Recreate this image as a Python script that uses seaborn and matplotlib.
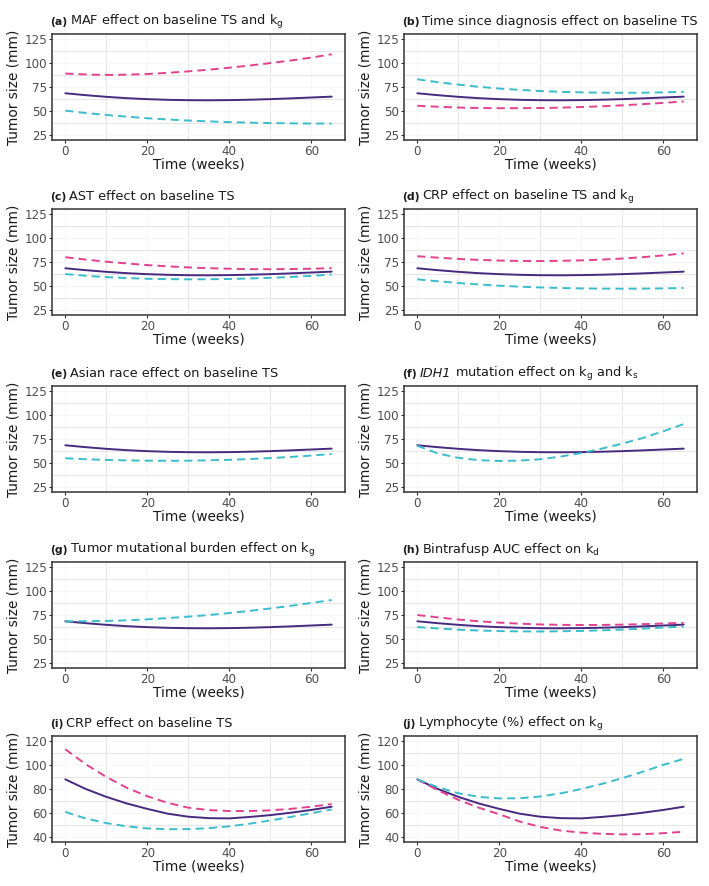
import numpy as np
import pandas as pd
import matplotlib
matplotlib.use("Agg")
import matplotlib.pyplot as plt
import seaborn as sns

sns.set_theme(style="white")
plt.rcParams["font.family"] = ["DejaVu Sans"]
plt.rcParams["mathtext.fontset"] = "dejavusans"

weeks = [0, 5, 10, 15, 20, 25, 30, 35, 40, 45, 50, 55, 60, 65]

typical_ab = [68.5, 66.5, 64.8, 63.4, 62.4, 61.7, 61.3, 61.2, 61.4, 61.8, 62.4, 63.2, 64.1, 65.0]
typical_ij = [88.0, 80.0, 73.5, 68.0, 63.5, 59.5, 57.0, 55.8, 55.6, 56.8, 58.3, 60.3, 62.6, 65.3]

a_high = [89.0, 88.0, 87.5, 87.8, 88.5, 89.7, 91.2, 93.0, 95.0, 97.3, 99.8, 102.5, 105.5, 109.0]
a_low = [50.5, 48.0, 46.0, 44.2, 42.6, 41.3, 40.2, 39.3, 38.6, 38.0, 37.6, 37.3, 37.1, 37.0]
b_low = [83.0, 80.0, 77.5, 75.2, 73.4, 72.0, 70.8, 70.0, 69.4, 69.1, 69.0, 69.1, 69.4, 70.0]
b_high = [55.5, 54.5, 53.7, 53.2, 53.0, 53.0, 53.2, 53.6, 54.2, 55.0, 56.0, 57.2, 58.5, 60.0]
c_high = [80.0, 77.5, 75.3, 73.5, 71.8, 70.5, 69.4, 68.6, 68.0, 67.6, 67.5, 67.7, 68.0, 68.6]
c_low = [62.5, 60.7, 59.3, 58.3, 57.6, 57.2, 57.0, 57.1, 57.4, 57.9, 58.6, 59.5, 60.6, 62.0]
d_high = [81.0, 79.5, 78.2, 77.2, 76.5, 76.1, 76.0, 76.2, 76.7, 77.5, 78.6, 80.0, 81.8, 84.0]
d_low = [57.0, 55.0, 53.2, 51.7, 50.4, 49.4, 48.6, 48.0, 47.6, 47.4, 47.3, 47.4, 47.6, 48.0]
e_low = [55.0, 54.0, 53.3, 52.8, 52.5, 52.4, 52.5, 52.9, 53.4, 54.2, 55.2, 56.4, 57.8, 59.5]
f_low = [68.0, 60.0, 55.5, 53.0, 52.2, 52.6, 54.0, 56.8, 60.5, 65.0, 70.2, 76.0, 83.0, 90.5]
g_low = [68.5, 68.5, 68.8, 69.5, 70.5, 71.8, 73.3, 75.0, 77.0, 79.3, 81.8, 84.5, 87.5, 90.5]
h_high = [75.0, 72.5, 70.3, 68.5, 67.1, 66.0, 65.2, 64.8, 64.6, 64.7, 65.0, 65.5, 66.2, 66.8]
h_low = [62.5, 61.0, 59.8, 58.9, 58.3, 58.0, 57.9, 58.1, 58.5, 59.1, 59.9, 60.9, 62.0, 63.0]
i_high = [113.0, 100.5, 90.0, 81.0, 74.0, 68.5, 64.5, 62.5, 61.7, 61.7, 62.3, 63.5, 65.3, 67.5]
i_low = [61.0, 55.5, 51.7, 49.0, 47.3, 46.6, 46.7, 47.5, 49.0, 51.2, 53.9, 56.8, 59.9, 63.0]
j_low = [88.0, 81.5, 76.5, 73.5, 72.2, 72.3, 73.8, 76.4, 80.0, 84.2, 89.0, 94.3, 100.0, 105.0]
j_high = [88.0, 79.0, 71.0, 64.5, 59.0, 53.0, 48.5, 45.5, 43.8, 42.8, 42.3, 42.5, 43.3, 44.5]

x_ticks = [0, 20, 40, 60]
y_ticks_std = [25, 50, 75, 100, 125]
y_ticks_ij = [40, 60, 80, 100, 120]

panels = [
    ("(a)", [("MAF effect on baseline TS and k$_\\mathregular{g}$", "normal")], typical_ab, a_high, a_low, y_ticks_std),
    ("(b)", [("Time since diagnosis effect on baseline TS", "normal")], typical_ab, b_high, b_low, y_ticks_std),
    ("(c)", [("AST effect on baseline TS", "normal")], typical_ab, c_high, c_low, y_ticks_std),
    ("(d)", [("CRP effect on baseline TS and k$_\\mathregular{g}$", "normal")], typical_ab, d_high, d_low, y_ticks_std),
    ("(e)", [("Asian race effect on baseline TS", "normal")], typical_ab, None, e_low, y_ticks_std),
    ("(f)", [("IDH1", "italic"), (" mutation effect on k$_\\mathregular{g}$ and k$_\\mathregular{s}$", "normal")], typical_ab, None, f_low, y_ticks_std),
    ("(g)", [("Tumor mutational burden effect on k$_\\mathregular{g}$", "normal")], typical_ab, None, g_low, y_ticks_std),
    ("(h)", [("Bintrafusp AUC effect on k$_\\mathregular{d}$", "normal")], typical_ab, h_high, h_low, y_ticks_std),
    ("(i)", [("CRP effect on baseline TS", "normal")], typical_ij, i_high, i_low, y_ticks_ij),
    ("(j)", [("Lymphocyte (%) effect on k$_\\mathregular{g}$", "normal")], typical_ij, j_high, j_low, y_ticks_ij),
]

W, H = 709, 886
fig = plt.figure(figsize=(W / 100, H / 100), dpi=100)

SOLID = "#47297F"
PINK = "#E2418F"
CYAN = "#3BBCCB"
DASH = (0, (4.2, 2.6))

col_left = [52, 404]
ax_w = 293
row_top = [34, 209, 386, 562, 736]
ax_h = 106

renderer = fig.canvas.get_renderer()

for k, (tag, pieces, typ, high, low, yt) in enumerate(panels):
    r, c = divmod(k, 2)
    left = col_left[c]
    top = row_top[r]
    ax = fig.add_axes([left / W, 1 - (top + ax_h) / H, ax_w / W, ax_h / H])
    sns.lineplot(x=weeks, y=typ, ax=ax, color=SOLID, lw=1.4, linestyle="-")
    if high is not None:
        sns.lineplot(x=weeks, y=high, ax=ax, color=PINK, lw=1.4, linestyle=DASH)
    if low is not None:
        sns.lineplot(x=weeks, y=low, ax=ax, color=CYAN, lw=1.4, linestyle=DASH)

    span = yt[-1] - yt[0]
    ax.set_ylim(yt[0] - 0.05 * span, yt[-1] + 0.05 * span)
    ax.set_xlim(-3.25, 68.25)
    ax.set_xticks(x_ticks)
    ax.set_yticks(yt)
    step = yt[1] - yt[0]
    ax.set_xticks([10, 30, 50], minor=True)
    ax.set_yticks([v + step / 2 for v in yt[:-1]], minor=True)
    ax.grid(False)
    ax.grid(True, which="minor", color="#E6E6E6", lw=0.8)
    ax.grid(True, which="major", color="#F6F6F6", lw=0.8)
    ax.set_axisbelow(True)
    ax.tick_params(axis="both", which="major", length=2.5, width=0.8, color="#333333",
                   labelsize=8.6, labelcolor="#4D4D4D", pad=1, direction="out",
                   bottom=True, left=True)
    ax.tick_params(axis="both", which="minor", length=0)
    for s in ax.spines.values():
        s.set_color("#333333")
        s.set_linewidth(1.1)
    ax.set_xlabel("Time (weeks)", fontsize=9.8, color="#1A1A1A", labelpad=0)
    ax.set_ylabel("Tumor size (mm)", fontsize=9.8, color="#1A1A1A", labelpad=3)

    # title composed of pieces
    xpx = left - 2
    ypx = top - 9
    t = fig.text(xpx / W, 1 - ypx / H, tag, fontsize=7.8, fontweight="bold",
                 color="#1A1A1A", va="baseline", ha="left")
    bb = t.get_window_extent(renderer)
    xcur = bb.x1 + 3
    for txt, style in pieces:
        t = fig.text(xcur / W, 1 - ypx / H, txt, fontsize=9.3, style=style,
                     color="#1A1A1A", va="baseline", ha="left")
        bb = t.get_window_extent(renderer)
        xcur = bb.x1

fig.savefig("out.png", dpi=100)
